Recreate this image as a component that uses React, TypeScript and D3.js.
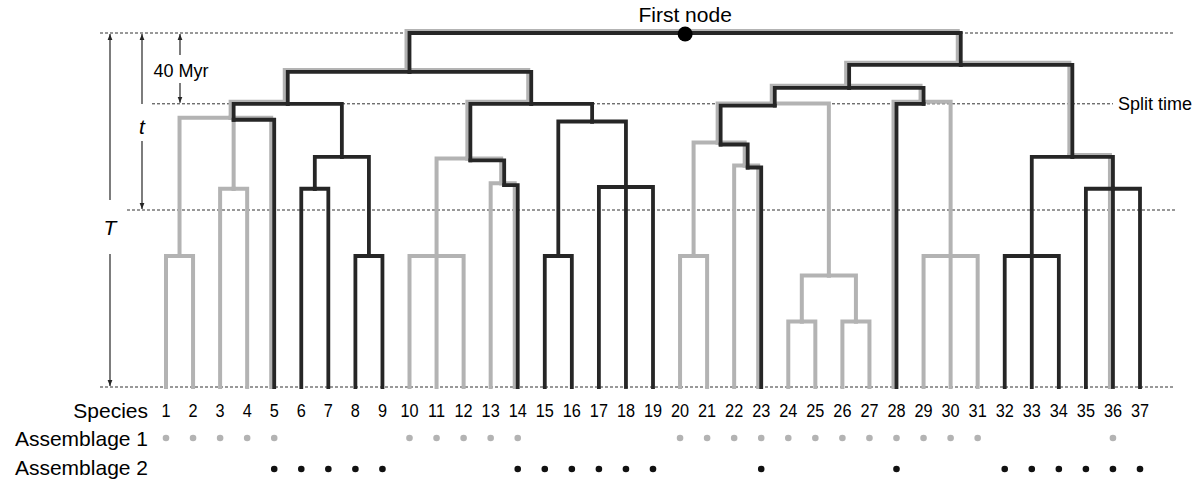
import React from "react";
import * as d3 from "d3";

// species along the tips, left to right
const species = ["1","2","3","4","5","6","7","8","9","10","11","12","13","14","15","16","17","18","19",
  "20","21","22","23","24","25","26","27","28","29","30","31","32","33","34","35","36","37"];

// clade each species hangs from
const leafParents = ["n12","n12","n34","n34","B","n67","n67","n89","n89","n10","n10","n10","G","G",
  "n1516","n1516","n17","n17","n17","n2021","n2021","n2223","n2223","n2425","n2425","n2627","n2627",
  "M","n29","n29","n29","n32","n32","n32","N","N","N"];

// internal nodes of the tree, their parents and ages (Myr before present)
const cladeIds = ["root","L","R","A","D","B","n12","n34","C","n67","n89","F","n10","G","E","n1516","n17",
  "H","I","J","n2021","n2223","n2427","n2425","n2627","M","n29","K","n32","N"];
const cladeParents = ["","root","root","L","L","A","B","B","A","C","C","D","F","F","D","E","E",
  "R","H","I","J","J","I","n2427","n2427","H","M","R","K","K"];
const cladeAges = [200,178,182,160,160,151,74,112,130,112,74,128,74,114,150,74,113,
  169,159,137,74,124,63,37,37,160,74,130,74,112];

const assemblage1 = ["1","2","3","4","5","10","11","12","13","14","20","21","22","23","24","25","26",
  "27","28","29","30","31","36"];
const assemblage2 = ["5","6","7","8","9","14","15","16","17","18","19","23","28","32","33","34","35",
  "36","37"];

const rootAge = 200;
const splitAge = 160;
const tAge = 100;

const font = "Liberation Sans, Arial, Helvetica, sans-serif";
const black = "#262626";
const grey = "#b3b3b3";

export default function App() {
  const x = d3.scalePoint<string>().domain(species).range([166, 1140]);
  const y = d3.scaleLinear().domain([0, rootAge]).range([387, 33]);

  const rows = [
    ...cladeIds.map((id, i) => ({ id, parent: cladeParents[i], age: cladeAges[i], label: "" })),
    ...species.map((s, i) => ({ id: "s" + s, parent: leafParents[i], age: 0, label: s })),
  ];
  const root: any = d3.stratify<any>().id((d) => d.id).parentId((d) => d.parent || null)(rows);

  const set1 = new Set(assemblage1);
  const set2 = new Set(assemblage2);

  // x of each node from its children, membership of both assemblages
  root.eachAfter((n: any) => {
    if (!n.children) {
      n.px = x(n.data.label);
      n.a1 = set1.has(n.data.label);
      n.a2 = set2.has(n.data.label);
    } else {
      const c = [...n.children].sort((a: any, b: any) => a.px - b.px);
      const k = c.length;
      n.px = k % 2 ? c[(k - 1) / 2].px : (c[k / 2 - 1].px + c[k / 2].px) / 2;
      n.a1 = c.some((d: any) => d.a1);
      n.a2 = c.some((d: any) => d.a2);
    }
    n.py = y(n.data.age);
  });

  const nodes = root.descendants().filter((n: any) => n.parent);

  // grey lineages are shifted a little where they run along a black one
  const greyPaths = nodes.filter((n: any) => n.a1).map((n: any) => {
    const p = n.parent;
    const ox = n.a2 ? -3 : 0;
    const oy = n.children && n.a2 ? -2 : 0;
    const pox = p.a2 ? -3 : 0;
    const poy = p.a2 ? -2 : 0;
    return `M${n.px + ox},${n.py + oy}V${p.py + poy}H${p.px + pox}`;
  });
  const blackPaths = nodes.filter((n: any) => n.a2).map((n: any) => {
    const p = n.parent;
    return `M${n.px},${n.py}V${p.py}H${p.px}`;
  });

  const arrow = (ax: number, y1: number, y2: number, gap1: number, gap2: number) => (
    <g stroke={black} strokeWidth={1.2}>
      <line x1={ax} x2={ax} y1={y1 + 1} y2={gap1} markerStart="url(#head)" />
      <line x1={ax} x2={ax} y1={gap2} y2={y2 - 1} markerEnd="url(#head)" />
    </g>
  );

  return (
    <svg width={1200} height={484} style={{ position: "absolute", left: 0, top: 0, background: "#fff" }}>
      <defs>
        <marker id="head" viewBox="0 0 10 10" refX="10" refY="5" markerWidth="6" markerHeight="6"
          orient="auto-start-reverse" markerUnits="userSpaceOnUse">
          <path d="M0,1L10,5L0,9Z" fill={black} />
        </marker>
      </defs>

      {/* time guides */}
      <g stroke="#333" strokeWidth={1} strokeDasharray="3,2">
        <line x1={100} x2={1175} y1={y(rootAge)} y2={y(rootAge)} />
        <line x1={152} x2={1113} y1={y(splitAge)} y2={y(splitAge)} />
        <line x1={127} x2={1175} y1={y(tAge)} y2={y(tAge)} />
        <line x1={100} x2={1175} y1={y(0)} y2={y(0)} />
      </g>

      {arrow(110, y(rootAge), y(0), 200, 254)}
      {arrow(142, y(rootAge), y(tAge), 104, 141)}
      {arrow(180, y(rootAge), y(splitAge), 55, 83)}
      <text x={110} y={235} fontFamily={font} fontSize={21} fontStyle="italic" textAnchor="middle">T</text>
      <text x={142} y={134} fontFamily={font} fontSize={21} fontStyle="italic" textAnchor="middle">t</text>
      <text x={181} y={77} fontFamily={font} fontSize={18} textAnchor="middle">40 Myr</text>
      <text x={1118} y={110} fontFamily={font} fontSize={18}>Split time</text>

      {/* tree */}
      <g fill="none" strokeLinecap="square" strokeLinejoin="miter">
        {greyPaths.map((d: string, i: number) => (
          <path key={"g" + i} d={d} stroke={grey} strokeWidth={4} />
        ))}
        {blackPaths.map((d: string, i: number) => (
          <path key={"b" + i} d={d} stroke={black} strokeWidth={3.8} />
        ))}
      </g>
      <circle cx={root.px} cy={y(rootAge) + 1} r={7.5} fill="#000" />
      <text x={root.px} y={22} fontFamily={font} fontSize={21} textAnchor="middle">First node</text>

      {/* species and assemblages */}
      <text x={148} y={418} fontFamily={font} fontSize={21} textAnchor="end">Species</text>
      <text x={148} y={446} fontFamily={font} fontSize={21} textAnchor="end">Assemblage 1</text>
      <text x={148} y={475} fontFamily={font} fontSize={21} textAnchor="end">Assemblage 2</text>
      {species.map((s) => (
        <text key={s} transform={`translate(${x(s)},417) scale(0.88,1)`} fontFamily={font} fontSize={18.5}
          textAnchor="middle">{s}</text>
      ))}
      {assemblage1.map((s) => (
        <circle key={"a1" + s} cx={x(s)} cy={438} r={3.3} fill={grey} />
      ))}
      {assemblage2.map((s) => (
        <circle key={"a2" + s} cx={x(s)} cy={469} r={3.3} fill="#111" />
      ))}
    </svg>
  );
}
